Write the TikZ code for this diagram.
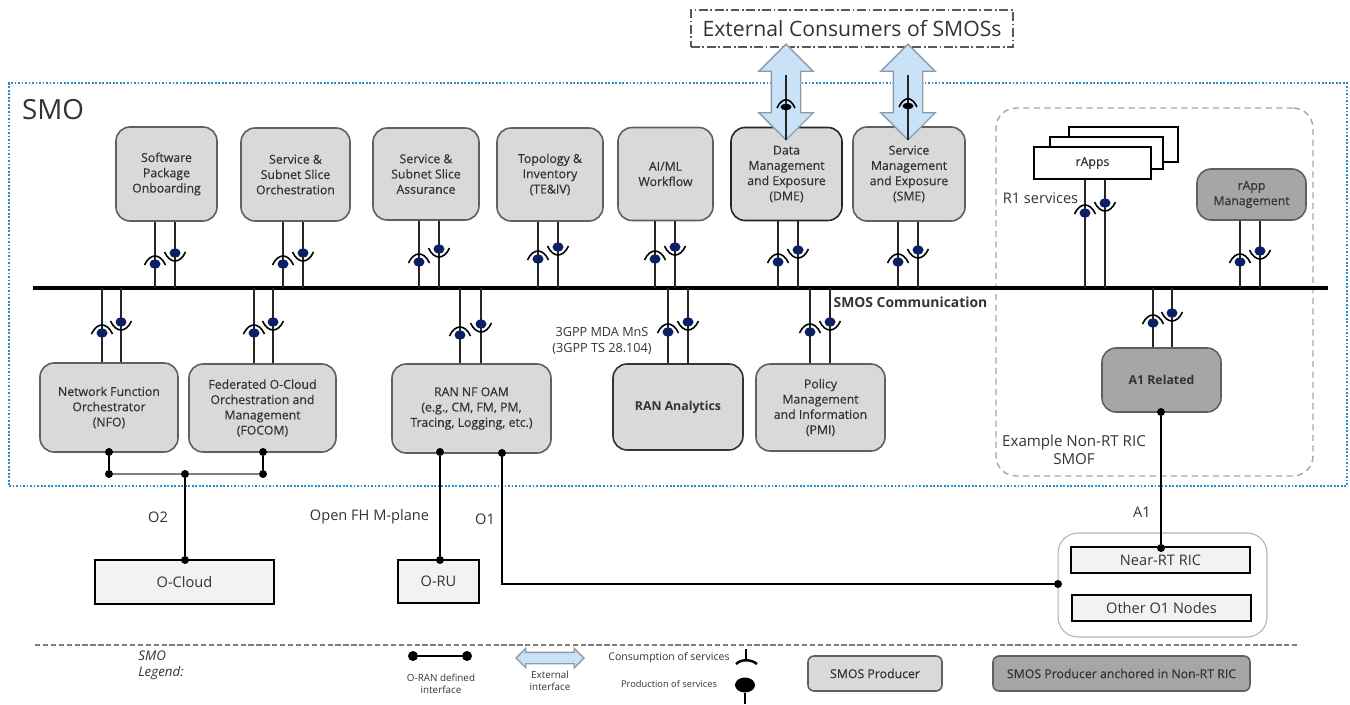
\documentclass[tikz,border=0pt]{standalone}
\usepackage{fontspec}
\setmainfont{Open Sans}
\newfontfamily\boxfont[FakeBold=0.35]{Open Sans}
\usetikzlibrary{shapes.geometric,shapes.arrows}
\definecolor{boxgray}{HTML}{D9D9D9}
\definecolor{ricgray}{HTML}{A6A6A6}
\definecolor{edgegray}{HTML}{5F5F5F}
\definecolor{oboxfill}{HTML}{F2F2F2}
\definecolor{smoblue}{HTML}{2E8BC9}
\definecolor{proddark}{HTML}{0C1F63}
\definecolor{extblue}{HTML}{C9E2F7}
\definecolor{extedge}{HTML}{8E9BA8}
\definecolor{textgray}{HTML}{333333}
\tikzset{
  wh/.style 2 args={minimum width=#1*0.2mm,minimum height=#2*0.2mm},
  fs/.style 2 args={font=\fontsize{#1}{#2}\selectfont},
  bfs/.style 2 args={font=\fontsize{#1}{#2}\selectfont\boxfont},
  smosbox/.style={draw=edgegray,line width=.9pt,fill=boxgray,rounded corners=2.8mm,align=center,inner sep=0pt,text=textgray,bfs={7}{8.7}},
  ricbox/.style={smosbox,fill=ricgray},
  obox/.style={draw=black,line width=1.3pt,fill=oboxfill,inner sep=0pt,text=textgray,fs={8.3}{10}},
  rappbox/.style={draw=black,line width=1.2pt,fill=white,inner sep=0pt,text=textgray,bfs={7}{8.7}},
  lab/.style={inner sep=0pt,text=textgray,align=center,fs={8.3}{10}},
  leglab/.style={inner sep=0pt,text=textgray,align=center,fs={5.6}{6.6}},
  svcline/.style={draw=black!85,line width=1.1pt},
  cuparc/.style={draw=black,line width=.9pt},
  proddot/.style={ellipse,fill=proddark,draw=none,inner sep=0pt,minimum width=2.2mm,minimum height=1.9mm},
  extdot/.style={proddot,fill=black,minimum height=1.3mm},
  joint/.style={circle,fill=black,draw=none,inner sep=0pt,minimum size=1.6mm},
  ifline/.style={draw=black,line width=1.2pt},
  extbase/.style={double arrow,draw=extedge,line width=.8pt,fill=extblue,inner xsep=0pt,double arrow tip angle=90,double arrow head indent=0pt},
  extarrow/.style={extbase,rotate=90,inner ysep=2.8mm,double arrow head extend=2.5mm,wh={53}{96}},
}
\begin{document}
\begin{tikzpicture}[x=0.02cm,y=-0.02cm]
\useasboundingbox (0,0) rectangle (1350,704);
% frames
\node[draw=smoblue,line width=1pt,densely dotted,wh={1338}{403},inner sep=0pt] (smo) at (678,284.5) {};
\node[draw=gray!70,line width=.8pt,dash pattern=on 3.5pt off 2.5pt,rounded corners=4mm,wh={317}{368},inner sep=0pt] (smof) at (1154.5,292) {};
\node[draw=black!65,line width=.8pt,dash pattern=on 5pt off 1.5pt on 1pt off 1.5pt,wh={322}{37},inner sep=0pt,text=textgray,fs={12.05}{14}] (ext) at (852,28.5) {External Consumers of SMOSs};
\node[lab,fs={15.8}{18}] (smolab) at (53,110) {SMO};
% bus
\coordinate (busl) at (33,288);
\coordinate (busr) at (1328,288);
\coordinate (bus) at (680,288);
\draw[line width=2.3pt,black] (busl) -- (busr);
\node[lab,font=\fontsize{7.9}{9}\selectfont\bfseries] (buslab) at (910.5,302) {SMOS Communication};
% top row
\node[smosbox,wh={101}{94}] (sw) at (166.5,174) {Software\\Package\\Onboarding};
\node[smosbox,wh={109}{93}] (orch) at (295.5,174.5) {Service \&\\Subnet Slice\\Orchestration};
\node[smosbox,wh={106}{92}] (assur) at (426,174) {Service \&\\Subnet Slice\\Assurance};
\node[smosbox,wh={106}{93}] (topo) at (550,174.5) {Topology \&\\Inventory\\(TE\&IV)};
\node[smosbox,wh={95}{93}] (aiml) at (665.5,174) {AI/ML\\Workflow};
\node[smosbox,wh={111}{93},draw=black!85] (dme) at (786.5,174) {Data\\Management\\and Exposure\\(DME)};
\node[smosbox,wh={112}{94}] (sme) at (909,174) {Service\\Management\\and Exposure\\(SME)};
\node[rappbox,wh={109}{35}] (rapp3) at (1123.5,144.5) {};
\node[rappbox,wh={113}{32}] (rapp2) at (1106.5,153) {};
\node[rappbox,wh={117}{32}] (rapp1) at (1092.5,163) {rApps};
\node[ricbox,wh={109}{51}] (rmgmt) at (1251.5,194.5) {rApp\\Management};
% bottom row
\node[smosbox,wh={138}{89}] (nfo) at (109,407.5) {Network Function\\Orchestrator\\(NFO)};
\node[smosbox,wh={147}{88}] (focom) at (262.5,408) {Federated O-Cloud\\Orchestration and\\Management\\(FOCOM)};
\node[smosbox,wh={159}{89}] (ran) at (471.5,408.5) {RAN NF OAM\\(e.g., CM, FM, PM,\\Tracing, Logging, etc.)};
\node[smosbox,wh={130}{86},draw=black!80,font=\fontsize{7}{8.7}\selectfont\bfseries] (mda) at (678,407) {RAN Analytics};
\node[smosbox,wh={129}{87}] (pmi) at (820.5,407.5) {Policy\\Management\\and Information\\(PMI)};
\node[ricbox,wh={119}{64},font=\fontsize{7}{8.7}\selectfont\bfseries] (a1rel) at (1161.5,380) {A1 Related};
% services on the bus
\foreach \bx/\xa/\xb/\ya/\yb in {sw.south/155/175/264/253,orch.south/283/303/264/253,assur.south/419/439/262/249,topo.south/538/558/259/247,aiml.south/655/675/259/247,dme.south/778/798/262/250,sme.south/898/918/262/250,rapp1.south/1085/1105/213/203,rmgmt.south/1240/1260/262/251,nfo.north/102/121/333/322,focom.north/254/273/333/322,ran.north/460/481/335/324,mda.north/668/688/332/322,pmi.north/810/830/332/322,a1rel.north/1153/1172/323/313}{
  \draw[svcline] (\xa,0 |- \bx) -- (\xa,0 |- bus);
  \draw[svcline] (\xb,0 |- \bx) -- (\xb,0 |- bus);
  \draw[cuparc] ({\xa-10.5},{\ya+1}) .. controls ({\xa-5},{\ya-11}) and ({\xa+5},{\ya-11}) .. ({\xa+10.5},{\ya+1});
  \draw[cuparc] ({\xb-10.5},{\yb-1}) .. controls ({\xb-5},{\yb+11}) and ({\xb+5},{\yb+11}) .. ({\xb+10.5},{\yb-1});
  \node[proddot] (a\xa) at (\xa,\ya) {};
  \node[proddot] (b\xb) at (\xb,\yb) {};
}
% external interfaces
\foreach \nm/\xc/\yd in {dme/786/107,sme/908/106}{
  \node[extarrow] (\nm arrow) at (\xc,92) {};
  \coordinate (\nm top) at (\xc,75);
  \coordinate (\nm tip) at (\xc,140);
  \draw[svcline] (\nm top) -- (\nm tip);
  \draw[cuparc] ({\xc-9},{\yd+1}) .. controls ({\xc-4},{\yd-10}) and ({\xc+4},{\yd-10}) .. ({\xc+9},{\yd+1});
  \node[extdot] (\nm dot) at (\xc,\yd) {};
}
% labels
\node[lab] (r1lab) at (1040.5,198) {R1 services};
\node[lab,fs={8.6}{10.2}] (smoflab) at (1074,450) {Example Non-RT RIC\\SMOF};
\node[lab,fs={7.2}{8.8}] (mdalab) at (602,341) {3GPP MDA MnS\\(3GPP TS 28.104)};
% outside the SMO
\node[obox,wh={179}{44}] (ocloud) at (184.5,582) {O-Cloud};
\node[obox,wh={81}{43}] (oru) at (438.5,581.5) {O-RU};
\node[draw=gray!60,line width=.6pt,rounded corners=4mm,wh={209}{104},inner sep=0pt] (ricgrp) at (1162.5,585) {};
\node[obox,wh={179}{26}] (nearrt) at (1160.5,560) {Near-RT RIC};
\node[obox,wh={179}{26}] (othero) at (1161.5,608) {Other O1 Nodes};
% O-RAN interfaces
\node[joint] (j1) at (109,452) {};
\node[joint] (j2) at (109,474) {};
\node[joint] (j3) at (263,452) {};
\node[joint] (j4) at (263,474) {};
\draw[ifline] (j1) -- (j2);
\draw[ifline] (j3) -- (j4);
\draw[draw=gray,line width=.6pt] (j2) -- (j4);
\node[joint] (j5) at (185,474) {};
\node[joint] (j6) at (185,560) {};
\draw[ifline] (j5) -- (j6);
\node[joint] (j7) at (440,452) {};
\node[joint] (j8) at (440,560) {};
\draw[ifline] (j7) -- (j8);
\node[joint] (j9) at (502,453) {};
\node[joint] (j10) at (1058,584) {};
\draw[ifline] (j9) |- (j10);
\node[joint] (j11) at (1161,412) {};
\node[joint] (j12) at (1161,548) {};
\draw[ifline] (j11) -- (j12);
\node[lab] (o2lab) at (158,517) {O2};
\node[lab] (mplab) at (369.5,517) {Open FH M-plane};
\node[lab] (o1lab) at (485,519) {O1};
\node[lab] (a1lab) at (1142,512) {A1};
% legend
\coordinate (legl) at (35,645);
\coordinate (legr) at (1300,645);
\draw[draw=gray,line width=1pt,dash pattern=on 3pt off 1.5pt] (legl) -- (legr);
\node[lab,anchor=west,align=left,font=\fontsize{7.6}{9.1}\selectfont\itshape] (leglab) at (138,665) {SMO\\Legend:};
\node[joint,minimum size=2mm] (ora) at (413,656) {};
\node[joint,minimum size=2mm] (orb) at (467,656) {};
\draw[ifline,line width=1.5pt] (ora) -- (orb);
\node[leglab] (oralab) at (441,684) {O-RAN defined\\interface};
\node[extbase,inner ysep=1mm,double arrow head extend=.8mm,wh={18}{68}] (legarrow) at (550,658) {};
\node[leglab] (arrlab) at (550,681) {External\\interface};
\node[leglab,fs={6}{7}] (conslab) at (669,658) {Consumption of services};
\coordinate (constop) at (746,649);
\coordinate (consbot) at (746,660);
\draw[ifline,line width=1.4pt] (constop) -- (consbot);
\draw[ifline,line width=1.4pt] (736,664) .. controls (741,659) and (751,659) .. (757,664);
\node[leglab,fs={5.3}{7}] (prodlab) at (669,684) {Production of services};
\node[proddot,fill=black,minimum width=4mm,minimum height=3mm] (legprod) at (745,685) {};
\coordinate (prodend) at (745,704);
\draw[ifline] (legprod) -- (prodend);
\node[smosbox,rounded corners=1.2mm,wh={134}{35}] (legsmos) at (875,673.5) {SMOS Producer};
\node[ricbox,rounded corners=1.2mm,wh={257}{35}] (legric) at (1121.5,673.5) {SMOS Producer anchored in Non-RT RIC};
\end{tikzpicture}
\end{document}
